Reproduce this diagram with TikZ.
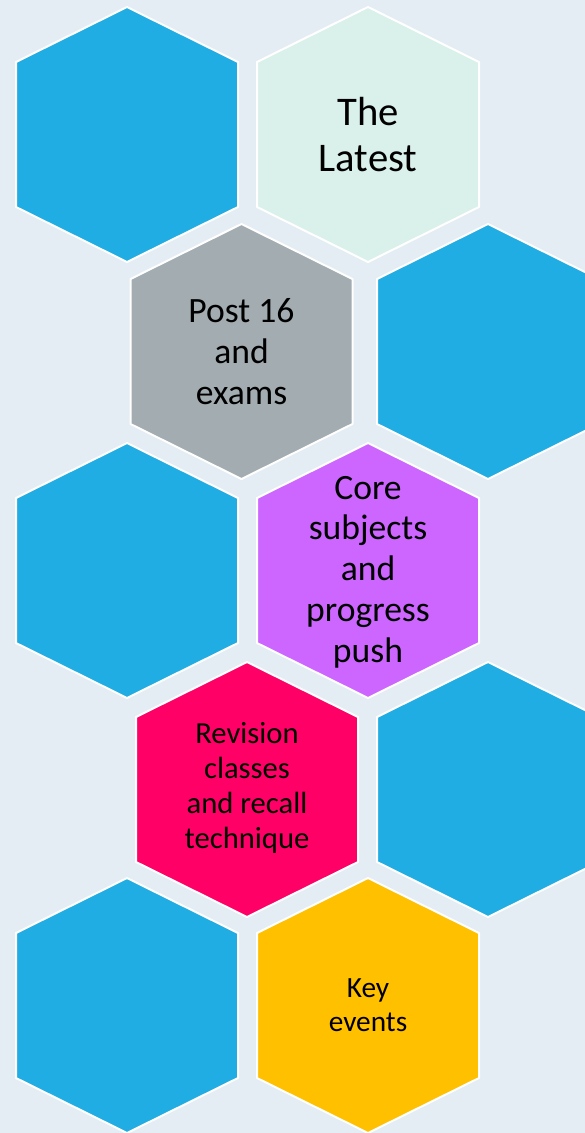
\documentclass[tikz,border=0pt]{standalone}
\usepackage{fontspec}
\setmainfont{Carlito}

\definecolor{backdrop}{HTML}{E4ECF4}
\definecolor{hexblue}{HTML}{1FADE3}
\definecolor{hexmint}{HTML}{DAF1EB}
\definecolor{hexgrey}{HTML}{A2ACB1}
\definecolor{hexviolet}{HTML}{CC66FF}
\definecolor{hexpink}{HTML}{FF0066}
\definecolor{hexgold}{HTML}{FFC000}

\begin{document}
\begin{tikzpicture}[x=0.75pt, y=-0.75pt,
    cell/.style={fill=#1, draw=white, line width=1.5pt, line join=round},
    hextext/.style 2 args={align=center, text=black, font=\fontsize{#1}{#2}\selectfont}]
    \useasboundingbox (0,0) rectangle (585,1133);
    \fill[backdrop] (0,0) rectangle (585,1133);
    \clip (0,0) rectangle (585,1133);
    % honeycomb cells
    \foreach \cx/\cy/\col in {127/134.5/hexblue, 368/134.5/hexmint,
        241.5/351.5/hexgrey, 488/351.5/hexblue,
        127/570.5/hexblue, 368/570.5/hexviolet,
        247/789.5/hexpink, 488/789.5/hexblue,
        127/1005.5/hexblue, 368/1005.5/hexgold}
      \filldraw[cell=\col] (\cx-111,\cy-72.5) -- (\cx,\cy-127.5) -- (\cx+111,\cy-72.5)
        -- (\cx+111,\cy+72.5) -- (\cx,\cy+127.5) -- (\cx-111,\cy+72.5) -- cycle;
    % texts
    \node(latest)[hextext={30.5}{35}] at (368,134.5) {The\\Latest};
    \node(post)[hextext={26.7}{31}] at (241.5,351.5) {Post 16\\and\\exams};
    \node(core)[hextext={26.7}{30.6}] at (368,572) {Core\\subjects\\and\\progress\\push};
    \node(revision)[hextext={23}{26.25}] at (247,788) {Revision\\classes\\and recall\\technique};
    \node(events)[hextext={22}{25.5}] at (368,1005.5) {Key\\events};
\end{tikzpicture}
\end{document}
